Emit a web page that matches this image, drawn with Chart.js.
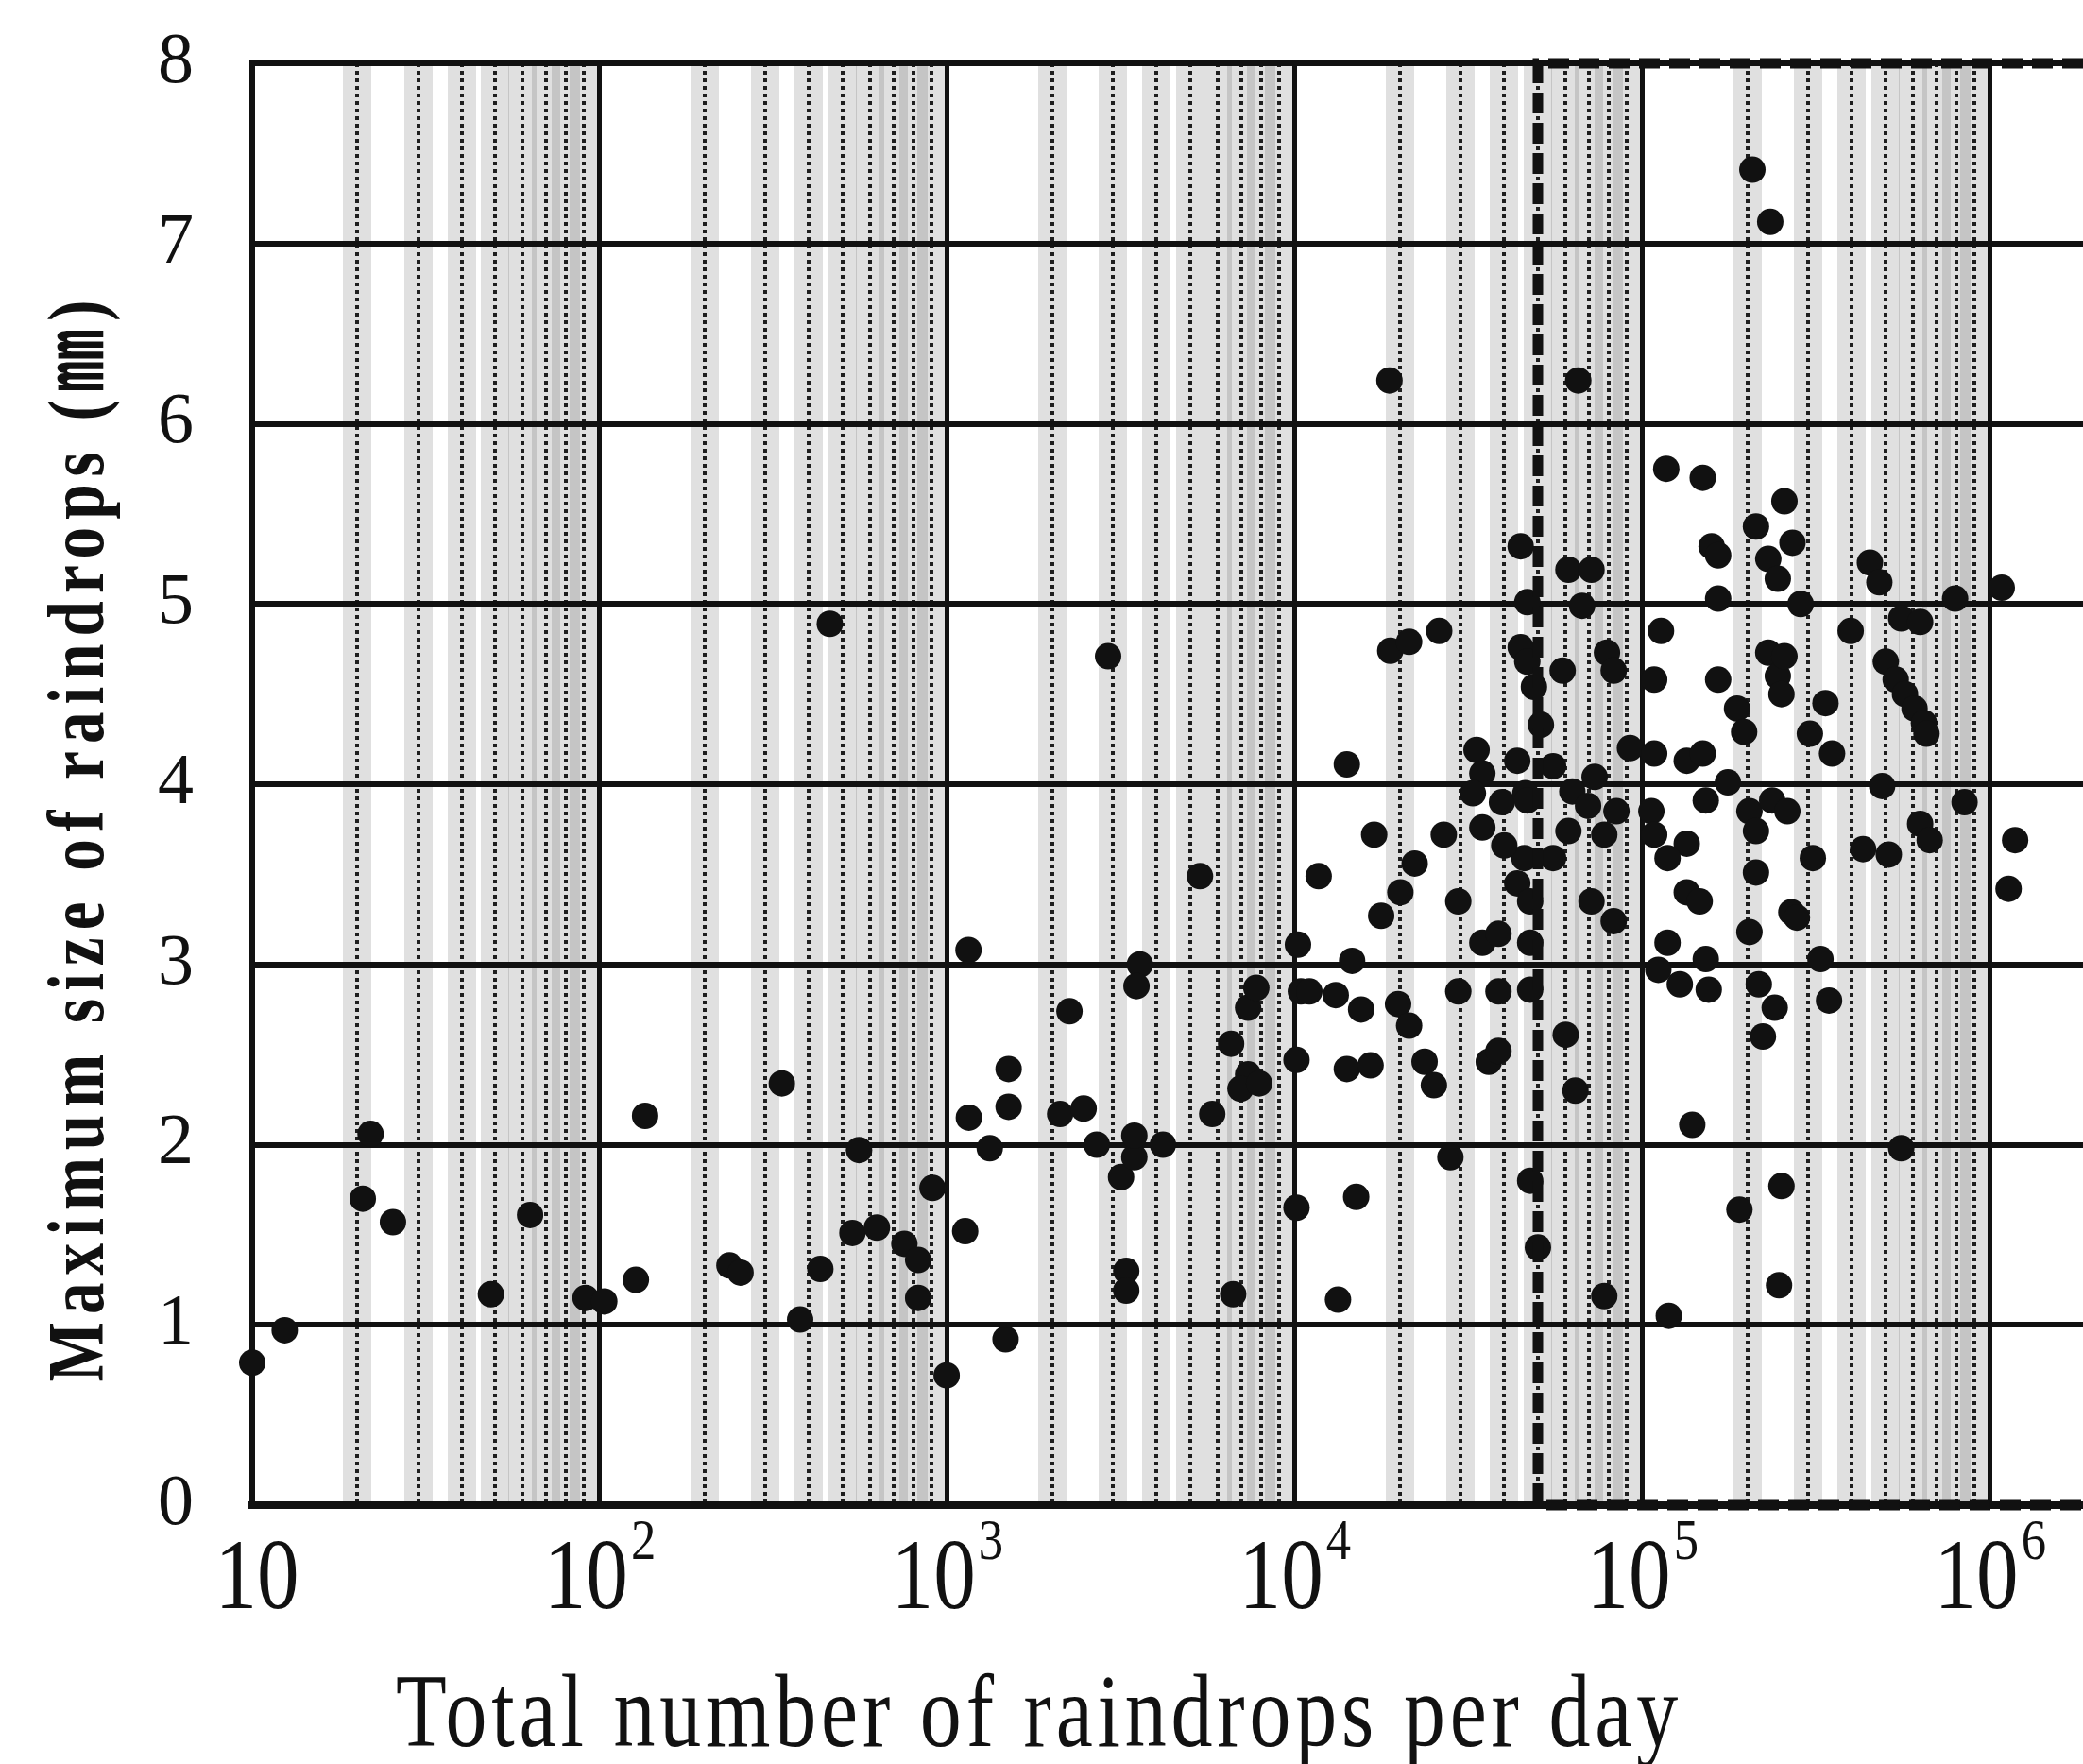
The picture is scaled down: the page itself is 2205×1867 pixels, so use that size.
<!DOCTYPE html>
<html>
<head>
<meta charset="utf-8">
<script src="https://cdn.jsdelivr.net/npm/chart.js@4.4.1/dist/chart.umd.min.js"></script>
<style>
  html, body { margin: 0; padding: 0; background: #fff; overflow: hidden; }
  #wrap { width: 2205px; height: 1867px; }
</style>
</head>
<body>
<div id="wrap"><canvas id="chart" width="2205" height="1867"></canvas></div>
<script>
// Total number of raindrops per day (x) against the largest drop seen that day (y, mm)
const dropCounts = [
    10, 12.4, 20.8, 21.9, 25.4, 48.6, 63, 91, 103, 127, 135, 236, 254, 334, 377, 431, 459,
    533, 557, 627, 752, 824, 824, 906, 995,
    1150, 1125, 1153, 1324, 1500, 1500, 1470, 2245, 2110, 2466, 2690, 2900, 3160, 3450,
    3450, 3580, 3500, 3270, 3270, 4170, 5330, 5780, 6640, 6550, 7330, 6970, 7330, 7740, 7890,
    10200, 10400, 10100, 10100, 11700, 11000, 13100, 14600, 14100, 14100, 16500, 15500,
    15000, 13300, 16900, 17700, 18700, 18800, 21300, 26000, 20100, 19800, 21300, 22100,
    23600, 25100, 26800, 28000, 29500, 29500, 34600, 38500, 38500, 36100, 38500, 33300,
    34600, 32500, 34600, 39400, 46000, 44600, 46600, 44600, 46600, 48700, 43600, 46600,
    45700, 43600, 47500, 47500, 47500, 47500, 50000, 40000,
    51000, 55300, 61200, 71300, 67000, 58900, 79000, 82600, 72800, 62800, 69700, 84100,
    61200, 77600, 55300, 71300, 82600, 60100, 64100, 92000, 65300, 77600,
    117000, 149000, 256000, 212000, 158000, 165000, 230000, 245000, 165000, 113000, 108000,
    165000, 230000, 245000, 187000, 196000, 108000, 134000, 149000, 106000, 152000, 176000,
    203000, 236000, 261000, 108000, 134000, 118000, 212000, 212000, 134000, 146000, 203000,
    268000, 118000, 111000, 128000, 152000, 155000, 216000, 240000, 222000, 139000, 119000,
    207000, 233000, 270000, 451000, 480000, 285000, 793000, 1080000, 397000, 555000, 629000,
    256000, 501000, 535000, 569000, 606000, 645000, 656000, 336000, 303000, 351000, 251000,
    489000, 844000, 629000, 670000, 431000, 511000, 309000, 1180000, 1130000, 278000, 325000,
    344000, 555000, 190000, 251000, 247000
];
const maxSizes = [
    0.79, 0.97, 1.70, 2.06, 1.57, 1.17, 1.61, 1.15, 1.13, 1.25, 2.16, 1.33, 1.29, 2.34, 1.03, 1.31, 4.89,
    1.51, 1.97, 1.54, 1.45, 1.36, 1.15, 1.76, 0.72,
    3.08, 1.52, 2.15, 1.98, 2.42, 2.21, 0.92, 2.74, 2.17, 2.20, 2.00, 4.71, 1.82, 1.93,
    2.05, 3.00, 2.88, 1.30, 1.19, 2.00, 3.49, 2.17, 1.17, 2.56, 2.39, 2.31, 2.76, 2.87, 2.34,
    3.11, 2.85, 2.47, 1.65, 3.49, 2.85, 2.83, 3.02, 4.11, 2.42, 2.44, 2.75,
    1.71, 1.14, 3.72, 3.27, 6.24, 4.74, 4.79, 4.85, 3.40, 2.78, 2.66, 3.56,
    2.46, 2.33, 3.72, 1.93, 3.35, 2.85, 3.12, 3.17, 2.85, 2.46, 2.52, 4.19,
    4.06, 3.95, 3.76, 3.90, 3.95, 5.32, 5.01, 4.76, 4.68, 4.54, 4.13, 3.91,
    3.59, 3.45, 3.35, 3.12, 2.86, 1.80, 1.43, 3.66,
    4.33, 4.10, 5.19, 5.19, 4.99, 4.63, 4.73, 4.63, 4.04, 3.96, 3.88, 3.85,
    3.74, 3.72, 3.59, 3.35, 3.24, 2.61, 2.30, 4.20, 6.24, 1.16,
    5.75, 5.70, 5.57, 5.43, 5.32, 5.27, 5.25, 5.14, 5.03, 4.85, 4.58,
    4.58, 4.73, 4.60, 4.42, 4.29, 4.17, 4.13, 4.17, 3.85, 3.91, 4.01,
    3.85, 3.91, 3.85, 3.72, 3.67, 3.59, 3.74, 3.51, 3.40, 3.35, 3.18,
    3.29, 3.12, 2.97, 2.89, 3.03, 2.86, 2.89, 2.76, 2.60, 2.11, 1.05,
    7.41, 7.12, 5.34, 5.23, 5.12, 5.00, 5.03, 5.09, 4.85, 4.92, 4.90,
    4.71, 4.68, 4.58, 4.50, 4.42, 4.34, 4.28, 4.45, 4.28, 4.17, 4.50,
    3.99, 3.90, 3.78, 3.69, 3.64, 3.61, 3.59, 3.69, 3.42, 3.26, 3.03,
    2.80, 1.98, 1.64, 1.77, 1.22
];

// axis ranges and ticks
const xMin = 10;
const xMax = 1.85e6;
const decadeTicks = [10, 100, 1000, 10000, 100000, 1000000];
const decadeExponents = ['', '2', '3', '4', '5', '6'];
const minorSteps = [2, 3, 4, 5, 6, 7, 8, 9];
const yTicks = [0, 1, 2, 3, 4, 5, 6, 7, 8];

// dashed frame around the region above 5 x 10^4 drops
const boxX = [xMax, 5e4, 5e4, xMax];
const boxY = [8, 8, 0, 0];

const xTitle = 'Total number of raindrops per day';
const yTitle = 'Maximum size of raindrops (㎜)';

const minorTicks = decadeTicks.flatMap(d => minorSteps.map(m => d * m)).filter(v => v < xMax);

const ink = '#111';
const serif = '"Liberation Serif", "Noto Sans CJK JP", serif';

// keep the plot frame where the figure has it: no extra padding from label sizes
function noPadding(s) {
    s.paddingLeft = 0;
    s.paddingRight = 0;
    s.paddingTop = 0;
    s.paddingBottom = 0;
}

// log axes keep exactly the requested range and the given tick list
function fixLogTicks(values) {
    return s => {
        s.min = xMin;
        s.max = xMax;
        s.ticks = values.map(v => ({ value: v }));
    };
}

// draws one piece of text squeezed horizontally, like the narrow typeface of the original
function drawNarrow(ctx, text, x, y, squeeze) {
    ctx.save();
    ctx.translate(x, y);
    ctx.scale(squeeze, 1);
    ctx.fillText(text, 0, 0);
    ctx.restore();
}

const paperLabels = {
    id: 'paperLabels',
    afterDraw(chart) {
        const ctx = chart.ctx;
        const xs = chart.scales.x;
        ctx.save();
        ctx.fillStyle = ink;
        ctx.textBaseline = 'alphabetic';
        ctx.textAlign = 'left';

        // decade labels 10, 10^2 ... with raised exponents
        decadeTicks.forEach((v, i) => {
            const px = xs.getPixelForValue(v);
            ctx.font = '105px ' + serif;
            const baseW = ctx.measureText('10').width * 0.85;
            const exp = decadeExponents[i];
            ctx.font = '62px ' + serif;
            const expW = exp ? ctx.measureText(exp).width * 0.85 + 3 : 0;
            let start = px - (baseW + expW) / 2;
            if (!exp) start += 5;
            ctx.font = '105px ' + serif;
            drawNarrow(ctx, '10', start, 1702, 0.85);
            if (exp) {
                ctx.font = '62px ' + serif;
                drawNarrow(ctx, exp, start + baseW + 3, 1650, 0.85);
            }
        });

        // x axis title
        ctx.font = '110px ' + serif;
        if ('letterSpacing' in ctx) ctx.letterSpacing = '6px';
        const tW = ctx.measureText(xTitle).width * 0.8;
        drawNarrow(ctx, xTitle, 1100 - tW / 2, 1848, 0.8);

        // y axis title, read from bottom to top
        ctx.font = 'bold 84px ' + serif;
        if ('letterSpacing' in ctx) ctx.letterSpacing = '10px';
        const yW = ctx.measureText(yTitle).width * 0.8;
        ctx.save();
        ctx.translate(87, 886);
        ctx.rotate(-Math.PI / 2);
        ctx.textBaseline = 'middle';
        drawNarrow(ctx, yTitle, -yW / 2, 0, 0.8);
        ctx.restore();
        ctx.restore();
    }
};

const ctx = document.getElementById('chart').getContext('2d');
new Chart(ctx, {
    type: 'scatter',
    data: {
        datasets: [
            {
                type: 'line',
                data: boxX.map((x, i) => ({ x: x, y: boxY[i] })),
                xAxisID: 'x',
                yAxisID: 'y',
                borderColor: ink,
                borderWidth: 11,
                borderDash: [22, 10],
                pointRadius: 0,
                fill: false,
                tension: 0,
                clip: false
            },
            {
                data: dropCounts.map((c, i) => ({ x: c, y: maxSizes[i] })),
                xAxisID: 'x',
                yAxisID: 'y',
                backgroundColor: ink,
                borderWidth: 0,
                pointRadius: 14,
                pointHoverRadius: 14,
                clip: false
            }
        ]
    },
    options: {
        responsive: false,
        animation: false,
        devicePixelRatio: 1,
        layout: { autoPadding: false, padding: { top: 67, right: 0, bottom: 0, left: 0 } },
        plugins: {
            legend: { display: false },
            tooltip: { enabled: false }
        },
        scales: {
            x: {
                type: 'logarithmic',
                position: 'bottom',
                min: xMin,
                max: xMax,
                afterBuildTicks: fixLogTicks(decadeTicks),
                afterFit: s => { s.height = 274; noPadding(s); },
                ticks: { display: false },
                grid: { color: ink, lineWidth: 5, drawTicks: false },
                border: { color: ink, width: 8 }
            },
            xHaze: {
                type: 'logarithmic',
                position: 'bottom',
                min: xMin,
                max: xMax,
                z: -2,
                afterBuildTicks: fixLogTicks(minorTicks),
                afterFit: s => { s.height = 0; noPadding(s); },
                ticks: { display: false },
                grid: { color: 'rgba(0,0,0,0.12)', lineWidth: 30, drawTicks: false },
                border: { display: false }
            },
            xDots: {
                type: 'logarithmic',
                position: 'bottom',
                min: xMin,
                max: xMax,
                z: -1,
                afterBuildTicks: fixLogTicks(minorTicks),
                afterFit: s => { s.height = 0; noPadding(s); },
                ticks: { display: false },
                grid: { color: '#1e1e1e', lineWidth: 4, drawTicks: false },
                border: { display: false, dash: [4, 4] }
            },
            y: {
                min: 0,
                max: 8,
                afterBuildTicks: s => { s.ticks = yTicks.map(v => ({ value: v })); },
                afterFit: s => { s.width = 267; noPadding(s); },
                grid: { color: ink, lineWidth: 6, drawTicks: false },
                border: { color: ink, width: 6 },
                ticks: {
                    color: ink,
                    padding: 62,
                    font: { family: serif, size: 76 }
                }
            }
        }
    },
    plugins: [paperLabels]
});
</script>
</body>
</html>
